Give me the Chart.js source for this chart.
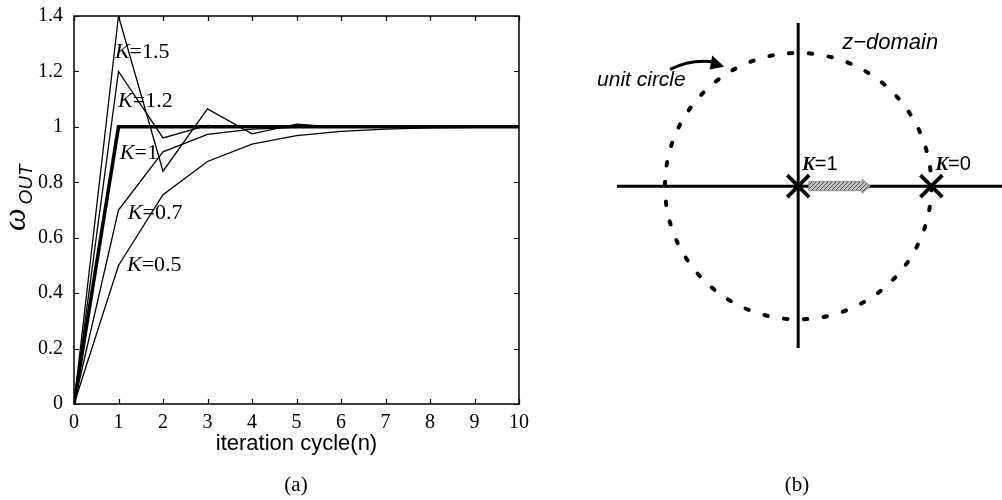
<!DOCTYPE html>
<html lang="en">
<head>
    <title>Iteration response and z-domain pole</title>
    <script src="https://cdn.jsdelivr.net/npm/chart.js"></script>
    <style>
        body {
            margin: 0;
            background-color: white;
            width: 1002px;
            height: 500px;
            position: relative;
            overflow: hidden;
        }

        #stepBox {
            position: absolute;
            left: 0;
            top: 0;
            width: 590px;
            height: 500px;
        }

        #poleBox {
            position: absolute;
            left: 590px;
            top: 0;
            width: 412px;
            height: 500px;
        }

        .caption {
            position: absolute;
            top: 472px;
            font-family: "Liberation Serif", serif;
            font-size: 21px;
            color: black;
            transform: translateX(-50%);
        }
    </style>
</head>
<body>

    <div id="stepBox"><canvas id="stepChart" width="590" height="500"></canvas></div>
    <div id="poleBox"><canvas id="poleChart" width="412" height="500"></canvas></div>
    <div class="caption" style="left: 296px;">(a)</div>
    <div class="caption" style="left: 797px;">(b)</div>

    <script>
        // (a) loop response, one array per gain K
        const iteration = [0, 1, 2, 3, 4, 5, 6, 7, 8, 9, 10];
        const gainK15 = [0, 1.4, 0.84, 1.065, 0.975, 1.01, 0.998, 1.0, 1.0, 1.0, 1.0];
        const gainK12 = [0, 1.2, 0.96, 1.005, 0.998, 1.0, 1.0, 1.0, 1.0, 1.0, 1.0];
        const gainK10 = [0, 1, 1, 1, 1, 1, 1, 1, 1, 1, 1];
        const gainK07 = [0, 0.7, 0.91, 0.973, 0.992, 0.998, 0.999, 1.0, 1.0, 1.0, 1.0];
        const gainK05 = [0, 0.5, 0.755, 0.875, 0.938, 0.968, 0.984, 0.992, 0.996, 0.998, 0.999];
        const curveLabels = ['1.5', '1.2', '1', '0.7', '0.5'];
        const xTickMax = 10;
        const yTickMax = 1.4;

        // (b) z-plane
        const poleZ = [0, 1];
        const poleGain = ['1', '0'];
        const realAxisRange = [-1.36, 1.53];
        const imagAxisRange = [-1.22, 1.23];
        const unitRadius = 1;
        const poleMoveFrom = 0.08;
        const poleMoveTo = 0.54;

        // where the K= captions sit in (a), in data units
        const curveLabelPos = [
            { x: 0.92, y: 1.27 },
            { x: 0.99, y: 1.094 },
            { x: 1.03, y: 0.906 },
            { x: 1.21, y: 0.69 },
            { x: 1.19, y: 0.502 }
        ];

        const serif = '"Liberation Serif", serif';
        const sans = '"Liberation Sans", Arial, sans-serif';

        function toPoints(values) {
            return iteration.map((n, i) => ({ x: n, y: values[i] }));
        }

        function drawKLabel(ctx, x, y, rest, kFont, restFont) {
            ctx.save();
            ctx.fillStyle = 'black';
            ctx.textBaseline = 'middle';
            ctx.textAlign = 'left';
            ctx.font = kFont;
            ctx.fillText('K', x, y);
            const w = ctx.measureText('K').width;
            ctx.font = restFont;
            ctx.fillText('=' + rest, x + w, y);
            ctx.restore();
        }

        const frameAndLabels = {
            id: 'frameAndLabels',
            afterDraw(chart) {
                const { ctx, chartArea: { left, right, top, bottom }, scales: { x, y } } = chart;
                ctx.save();
                ctx.strokeStyle = 'black';
                ctx.lineWidth = 1.5;
                ctx.strokeRect(left, top, right - left, bottom - top);
                ctx.beginPath();
                x.ticks.forEach(t => {
                    const px = Math.round(x.getPixelForValue(t.value)) + 0.5;
                    ctx.moveTo(px, bottom); ctx.lineTo(px, bottom - 5);
                    ctx.moveTo(px, top); ctx.lineTo(px, top + 5);
                });
                y.ticks.forEach(t => {
                    const py = Math.round(y.getPixelForValue(t.value)) + 0.5;
                    ctx.moveTo(left, py); ctx.lineTo(left + 5, py);
                    ctx.moveTo(right, py); ctx.lineTo(right - 5, py);
                });
                ctx.lineWidth = 1.2;
                ctx.stroke();

                // curve captions
                curveLabels.forEach((k, i) => {
                    const p = curveLabelPos[i];
                    drawKLabel(ctx, x.getPixelForValue(p.x), y.getPixelForValue(p.y), k,
                        'italic 22px ' + serif, '22px ' + serif);
                });

                // y title: omega with OUT subscript, rotated
                ctx.translate(25, 231);
                ctx.rotate(-Math.PI / 2);
                ctx.fillStyle = 'black';
                ctx.textBaseline = 'alphabetic';
                ctx.textAlign = 'left';
                ctx.font = 'italic 32px ' + serif;
                ctx.fillText('\u03c9', 0, 0);
                const ow = ctx.measureText('\u03c9').width;
                ctx.font = 'italic 19px ' + sans;
                ctx.fillText('OUT', ow + 4, 7);
                ctx.restore();
            }
        };

        new Chart(document.getElementById('stepChart').getContext('2d'), {
            type: 'line',
            data: {
                datasets: [
                    { data: toPoints(gainK10), borderWidth: 3.5 },
                    { data: toPoints(gainK15), borderWidth: 1.3 },
                    { data: toPoints(gainK12), borderWidth: 1.3 },
                    { data: toPoints(gainK07), borderWidth: 1.3 },
                    { data: toPoints(gainK05), borderWidth: 1.3 }
                ].map(d => Object.assign(d, {
                    borderColor: 'black',
                    pointRadius: 0,
                    tension: 0,
                    fill: false
                }))
            },
            options: {
                responsive: false,
                animation: false,
                layout: { autoPadding: false, padding: { left: 0, top: 16, right: 71, bottom: 36 } },
                plugins: {
                    legend: { display: false },
                    tooltip: { enabled: false }
                },
                scales: {
                    x: {
                        type: 'linear',
                        min: 0,
                        max: xTickMax,
                        grid: { display: false, drawTicks: false },
                        border: { display: false },
                        ticks: { stepSize: 1, padding: 7, color: 'black', font: { family: serif, size: 20 } },
                        title: {
                            display: true,
                            text: 'iteration cycle(n)',
                            color: 'black',
                            font: { family: sans, size: 22 },
                            padding: { top: 0, bottom: 7 }
                        },
                        afterFit(scale) { scale.height = 60; }
                    },
                    y: {
                        min: 0,
                        max: yTickMax,
                        grid: { display: false, drawTicks: false },
                        border: { display: false },
                        ticks: {
                            stepSize: 0.2,
                            padding: 11,
                            color: 'black',
                            font: { family: serif, size: 20 },
                            callback: v => String(Number(v.toFixed(1)))
                        },
                        afterFit(scale) {
                            scale.width = 74;
                            scale.paddingTop = 0;
                            scale.paddingBottom = 0;
                        }
                    }
                }
            },
            plugins: [frameAndLabels]
        });

        // hatched fill for the pole-movement arrow
        function hatchPattern(ctx) {
            const c = document.createElement('canvas');
            c.width = 4; c.height = 4;
            const g = c.getContext('2d');
            g.fillStyle = '#c4c4c4';
            g.fillRect(0, 0, 4, 4);
            g.strokeStyle = '#4a4a4a';
            g.lineWidth = 1;
            g.beginPath();
            g.moveTo(0, 4); g.lineTo(4, 0);
            g.moveTo(-1, 1); g.lineTo(1, -1);
            g.moveTo(3, 5); g.lineTo(5, 3);
            g.stroke();
            return ctx.createPattern(c, 'repeat');
        }

        const zPlaneDecor = {
            id: 'zPlaneDecor',
            beforeDatasetsDraw(chart) {
                const { ctx, scales: { x, y } } = chart;
                const cx = x.getPixelForValue(0);
                const cy = y.getPixelForValue(0);
                const r = x.getPixelForValue(unitRadius) - cx;
                ctx.save();
                ctx.strokeStyle = 'black';
                ctx.lineWidth = 4;
                ctx.lineCap = 'round';
                ctx.setLineDash([3.5, 2 * Math.PI * r / 42 - 3.5]);
                ctx.beginPath();
                ctx.arc(cx, cy, r, -Math.PI / 2 - 0.07, 1.5 * Math.PI - 0.07);
                ctx.stroke();
                ctx.restore();
            },
            afterDatasetDraw(chart, args) {
                if (args.index !== 1) return;
                const { ctx, scales: { x, y } } = chart;
                const x0 = x.getPixelForValue(poleMoveFrom);
                const x1 = x.getPixelForValue(poleMoveTo);
                const cy = y.getPixelForValue(0);
                ctx.save();
                ctx.beginPath();
                ctx.moveTo(x0, cy - 4.5);
                ctx.lineTo(x1 - 8, cy - 4.5);
                ctx.lineTo(x1 - 8, cy - 7);
                ctx.lineTo(x1, cy);
                ctx.lineTo(x1 - 8, cy + 7);
                ctx.lineTo(x1 - 8, cy + 4.5);
                ctx.lineTo(x0, cy + 4.5);
                ctx.closePath();
                ctx.fillStyle = hatchPattern(ctx);
                ctx.fill();
                ctx.strokeStyle = '#8a8a8a';
                ctx.lineWidth = 1;
                ctx.stroke();
                ctx.restore();
            },
            afterDraw(chart) {
                const { ctx, scales: { x, y } } = chart;
                ctx.save();
                ctx.fillStyle = 'black';
                ctx.textBaseline = 'middle';
                ctx.textAlign = 'left';

                ctx.font = 'italic 22px ' + sans;
                ctx.fillText('z\u2212domain', x.getPixelForValue(0.33), y.getPixelForValue(1.08));
                ctx.font = 'italic 21px ' + sans;
                ctx.fillText('unit circle', x.getPixelForValue(-1.51), y.getPixelForValue(0.8));

                // curved pointer to the unit circle
                const sx = x.getPixelForValue(-0.962), sy = y.getPixelForValue(0.88);
                const cx = x.getPixelForValue(-0.8), cy = y.getPixelForValue(0.96);
                const ex = x.getPixelForValue(-0.63), ey = y.getPixelForValue(0.935);
                ctx.strokeStyle = 'black';
                ctx.lineWidth = 3;
                ctx.beginPath();
                ctx.moveTo(sx, sy);
                ctx.quadraticCurveTo(cx, cy, ex, ey);
                ctx.stroke();
                const tx = x.getPixelForValue(-0.555), ty = y.getPixelForValue(0.9);
                ctx.beginPath();
                ctx.moveTo(tx, ty);
                ctx.lineTo(x.getPixelForValue(-0.645), y.getPixelForValue(0.985));
                ctx.lineTo(x.getPixelForValue(-0.665), y.getPixelForValue(0.88));
                ctx.closePath();
                ctx.fill();

                // pole captions
                poleZ.forEach((z, i) => {
                    drawKLabel(ctx, x.getPixelForValue(z) + 4, y.getPixelForValue(0.16), poleGain[i],
                        'italic bold 19px ' + serif, '20px ' + sans);
                });
                ctx.restore();
            }
        };

        new Chart(document.getElementById('poleChart').getContext('2d'), {
            type: 'scatter',
            data: {
                datasets: [
                    {
                        data: poleZ.map(z => ({ x: z, y: 0 })),
                        pointStyle: 'crossRot',
                        pointRadius: 15.5,
                        borderColor: 'black',
                        borderWidth: 3.8,
                        clip: false
                    },
                    {
                        data: [{ x: realAxisRange[0], y: 0 }, { x: realAxisRange[1], y: 0 }],
                        showLine: true,
                        borderColor: 'black',
                        borderWidth: 3,
                        pointRadius: 0,
                        clip: false
                    },
                    {
                        data: [{ x: 0, y: imagAxisRange[0] }, { x: 0, y: imagAxisRange[1] }],
                        showLine: true,
                        borderColor: 'black',
                        borderWidth: 3,
                        pointRadius: 0,
                        clip: false
                    }
                ]
            },
            options: {
                responsive: false,
                animation: false,
                layout: { autoPadding: false, padding: { left: 27, top: 23, right: 0, bottom: 152 } },
                plugins: {
                    legend: { display: false },
                    tooltip: { enabled: false }
                },
                scales: {
                    x: { type: 'linear', min: realAxisRange[0], max: realAxisRange[1], display: false },
                    y: { type: 'linear', min: imagAxisRange[0], max: imagAxisRange[1], display: false }
                }
            },
            plugins: [zPlaneDecor]
        });
    </script>

</body>
</html>
